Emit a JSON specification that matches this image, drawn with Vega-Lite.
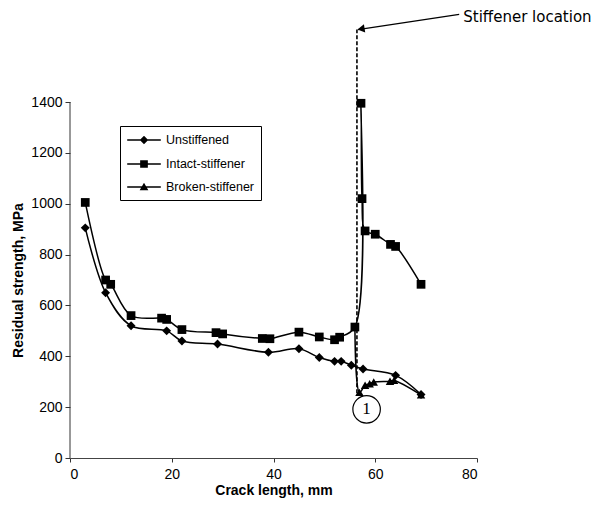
{
  "$schema": "https://vega.github.io/schema/vega-lite/v6.json",
  "width": 407,
  "height": 445,
  "autosize": {"type": "none"},
  "padding": {"left": 70, "top": 13, "right": 126, "bottom": 55},
  "background": "white",
  "config": {
    "view": {"stroke": null},
    "axis": {
      "grid": false,
      "labelFont": "Liberation Sans",
      "labelFontSize": 14,
      "labelColor": "black",
      "titleFont": "Liberation Sans",
      "titleFontSize": 14,
      "titleFontWeight": "bold",
      "titleColor": "black",
      "tickColor": "#333",
      "domainColor": "#444"
    }
  },
  "datasets": {
    "curves": [
      {"series": "Unstiffened", "order": 1, "x": 3, "y": 905},
      {"series": "Unstiffened", "order": 2, "x": 7, "y": 650},
      {"series": "Unstiffened", "order": 3, "x": 12, "y": 520},
      {"series": "Unstiffened", "order": 4, "x": 19, "y": 500},
      {"series": "Unstiffened", "order": 5, "x": 22, "y": 460},
      {"series": "Unstiffened", "order": 6, "x": 29, "y": 448},
      {"series": "Unstiffened", "order": 7, "x": 39, "y": 416},
      {"series": "Unstiffened", "order": 8, "x": 45, "y": 430},
      {"series": "Unstiffened", "order": 9, "x": 49, "y": 395},
      {"series": "Unstiffened", "order": 10, "x": 52, "y": 380},
      {"series": "Unstiffened", "order": 11, "x": 53.3, "y": 380},
      {"series": "Unstiffened", "order": 12, "x": 55.3, "y": 365},
      {"series": "Unstiffened", "order": 13, "x": 57.6, "y": 350},
      {"series": "Unstiffened", "order": 14, "x": 64, "y": 325},
      {"series": "Unstiffened", "order": 15, "x": 69, "y": 250},
      {"series": "Intact-stiffener", "order": 1, "x": 3, "y": 1005},
      {"series": "Intact-stiffener", "order": 2, "x": 7, "y": 700},
      {"series": "Intact-stiffener", "order": 3, "x": 8, "y": 683},
      {"series": "Intact-stiffener", "order": 4, "x": 12, "y": 560},
      {"series": "Intact-stiffener", "order": 5, "x": 18, "y": 550},
      {"series": "Intact-stiffener", "order": 6, "x": 19, "y": 545},
      {"series": "Intact-stiffener", "order": 7, "x": 22, "y": 505},
      {"series": "Intact-stiffener", "order": 8, "x": 28.7, "y": 493},
      {"series": "Intact-stiffener", "order": 9, "x": 30, "y": 488},
      {"series": "Intact-stiffener", "order": 10, "x": 37.8, "y": 470},
      {"series": "Intact-stiffener", "order": 11, "x": 39.3, "y": 469},
      {"series": "Intact-stiffener", "order": 12, "x": 45, "y": 495},
      {"series": "Intact-stiffener", "order": 13, "x": 49, "y": 476},
      {"series": "Intact-stiffener", "order": 14, "x": 52, "y": 465},
      {"series": "Intact-stiffener", "order": 15, "x": 53, "y": 475},
      {"series": "Intact-stiffener", "order": 16, "x": 56, "y": 515},
      {"series": "Intact-stiffener", "order": 17, "x": 57.2, "y": 1395},
      {"series": "Intact-stiffener", "order": 18, "x": 57.4, "y": 1020},
      {"series": "Intact-stiffener", "order": 19, "x": 58, "y": 893},
      {"series": "Intact-stiffener", "order": 20, "x": 60, "y": 880},
      {"series": "Intact-stiffener", "order": 21, "x": 63, "y": 840},
      {"series": "Intact-stiffener", "order": 22, "x": 64, "y": 832},
      {"series": "Intact-stiffener", "order": 23, "x": 69, "y": 683},
      {"series": "Broken-stiffener", "order": 1, "x": 56, "y": 515},
      {"series": "Broken-stiffener", "order": 2, "x": 56.9, "y": 258},
      {"series": "Broken-stiffener", "order": 3, "x": 58, "y": 286},
      {"series": "Broken-stiffener", "order": 4, "x": 58.9, "y": 292},
      {"series": "Broken-stiffener", "order": 5, "x": 59.7, "y": 299},
      {"series": "Broken-stiffener", "order": 6, "x": 62.9, "y": 302},
      {"series": "Broken-stiffener", "order": 7, "x": 63.7, "y": 305},
      {"series": "Broken-stiffener", "order": 8, "x": 69, "y": 248}
    ],
    "yaxis": [{"x": 0, "y": 0, "y2": 1400}],
    "stiff": [{"x": 56.4, "y": 255, "y2": 1685}],
    "arrow": [{"order": 1, "x": 56.6, "y": 1685}, {"order": 2, "x": 76.5, "y": 1745}],
    "head": [{"x": 57.2, "y": 1687}],
    "label": [{"x": 77.3, "y": 1735, "text": "Stiffener location"}],
    "marker": [{"x": 58.3, "y": 191.5, "text": "1"}]
  },
  "layer": [
    {
      "data": {"name": "yaxis"},
      "mark": {"type": "rule", "color": "#333", "strokeWidth": 1},
      "encoding": {
        "x": {"field": "x", "type": "quantitative", "scale": {"domain": [0, 80], "nice": false},
          "axis": {"values": [0, 20, 40, 60, 80], "format": "d", "title": "Crack length, mm", "tickSize": 4, "labelPadding": 5, "titlePadding": 2, "domainWidth": 1.2}},
        "y": {"field": "y", "type": "quantitative", "scale": {"domain": [0, 1750], "nice": false, "zero": false},
          "axis": {"values": [0, 200, 400, 600, 800, 1000, 1200, 1400], "format": "d", "domain": false, "title": "Residual strength, MPa", "tickSize": 5, "labelPadding": 3, "titlePadding": 5, "titleY": 267}},
        "y2": {"field": "y2"}
      }
    },
    {
      "data": {"name": "curves"},
      "mark": {"type": "line", "interpolate": "catmull-rom", "color": "black", "strokeWidth": 1.5},
      "encoding": {
        "x": {"field": "x", "type": "quantitative"},
        "y": {"field": "y", "type": "quantitative"},
        "detail": {"field": "series"},
        "order": {"field": "order"}
      }
    },
    {
      "data": {"name": "curves"},
      "mark": {"type": "point", "filled": true, "color": "black", "opacity": 1},
      "encoding": {
        "x": {"field": "x", "type": "quantitative"},
        "y": {"field": "y", "type": "quantitative"},
        "shape": {"field": "series", "type": "nominal",
          "scale": {"domain": ["Unstiffened", "Intact-stiffener", "Broken-stiffener"], "range": ["diamond", "square", "triangle-up"]},
          "legend": null},
        "size": {"field": "series", "type": "nominal",
          "scale": {"domain": ["Unstiffened", "Intact-stiffener", "Broken-stiffener"], "range": [80, 72, 64]},
          "legend": null}
      }
    },
    {
      "data": {"name": "curves"},
      "transform": [{"filter": "datum.order < 0"}],
      "mark": {"type": "point", "filled": true, "color": "black", "opacity": 1},
      "encoding": {
        "x": {"field": "x", "type": "quantitative"},
        "y": {"field": "y", "type": "quantitative"},
        "shape": {"field": "series", "type": "nominal",
          "scale": {"domain": ["Unstiffened", "Intact-stiffener", "Broken-stiffener"],
            "range": [
              "M-2.4,-0.1L2.4,-0.1L2.4,0.1L-2.4,0.1ZM0,-0.6L0.6,0L0,0.6L-0.6,0Z",
              "M-2.4,-0.1L2.4,-0.1L2.4,0.1L-2.4,0.1ZM-0.55,-0.55L0.55,-0.55L0.55,0.55L-0.55,0.55Z",
              "M-2.4,-0.1L2.4,-0.1L2.4,0.1L-2.4,0.1ZM0,-0.62L0.62,0.45L-0.62,0.45Z"]},
          "legend": {
            "title": null, "orient": "none", "legendX": 50, "legendY": 113,
            "symbolSize": 196, "symbolFillColor": "black",
            "symbolOpacity": 1, "symbolOffset": 10,
            "labelFont": "Liberation Sans", "labelFontSize": 12.5, "labelColor": "black",
            "labelOffset": 14, "strokeColor": "black", "fillColor": "white",
            "padding": 6, "rowPadding": 8, "cornerRadius": 0
          }}
      }
    },
    {
      "data": {"name": "stiff"},
      "mark": {"type": "rule", "color": "black", "strokeWidth": 1.6, "strokeDash": [4, 2]},
      "encoding": {
        "x": {"field": "x", "type": "quantitative"},
        "y": {"field": "y", "type": "quantitative"},
        "y2": {"field": "y2"}
      }
    },
    {
      "data": {"name": "arrow"},
      "mark": {"type": "line", "color": "black", "strokeWidth": 1.3},
      "encoding": {
        "x": {"field": "x", "type": "quantitative"},
        "y": {"field": "y", "type": "quantitative"},
        "order": {"field": "order"}
      }
    },
    {
      "data": {"name": "head"},
      "mark": {"type": "point", "shape": "triangle-left", "filled": true, "color": "black", "opacity": 1, "size": 70, "angle": -9},
      "encoding": {
        "x": {"field": "x", "type": "quantitative"},
        "y": {"field": "y", "type": "quantitative"}
      }
    },
    {
      "data": {"name": "label"},
      "mark": {"type": "text", "align": "left", "baseline": "middle", "font": "DejaVu Sans", "fontSize": 15, "color": "black"},
      "encoding": {
        "x": {"field": "x", "type": "quantitative"},
        "y": {"field": "y", "type": "quantitative"},
        "text": {"field": "text"}
      }
    },
    {
      "data": {"name": "marker"},
      "mark": {"type": "point", "shape": "circle", "filled": false, "fill": "white", "stroke": "black", "strokeWidth": 1.2, "opacity": 1, "size": 755},
      "encoding": {
        "x": {"field": "x", "type": "quantitative"},
        "y": {"field": "y", "type": "quantitative"}
      }
    },
    {
      "data": {"name": "marker"},
      "mark": {"type": "text", "align": "center", "baseline": "middle", "font": "Liberation Serif", "fontSize": 17, "color": "black"},
      "encoding": {
        "x": {"field": "x", "type": "quantitative"},
        "y": {"field": "y", "type": "quantitative"},
        "text": {"field": "text"}
      }
    }
  ],
  "resolve": {"scale": {"shape": "independent", "size": "independent"}}
}
